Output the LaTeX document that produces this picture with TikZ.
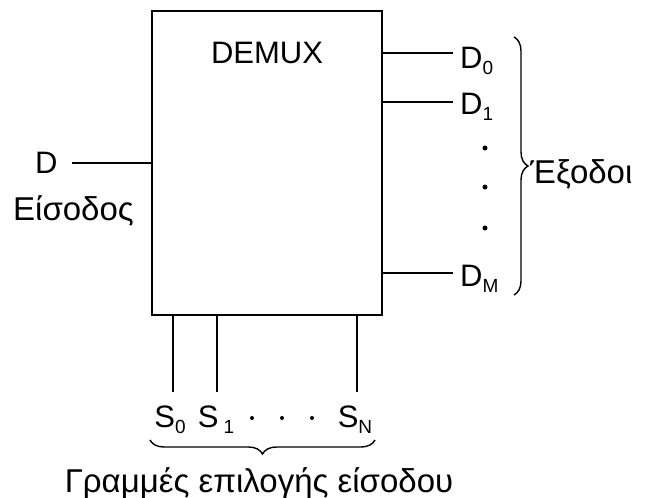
\documentclass[tikz,border=0pt]{standalone}
\usepackage{fontspec}
\setmainfont{Liberation Sans}
\usetikzlibrary{decorations.pathreplacing}
\newcommand{\sbs}[1]{\raisebox{-6pt}{\fontsize{19}{19}\selectfont #1}}
\begin{document}
\begin{tikzpicture}[x=1pt,y=-1pt,
  lbl/.style={inner sep=0pt, font=\fontsize{31}{36}\selectfont},
  glbl/.style={inner sep=0pt, font=\fontsize{33}{38}\selectfont},
  wire/.style={line width=2.5pt},
  boxstyle/.style={draw, line width=2.8pt, minimum width=230pt, minimum height=304pt, inner sep=0pt, outer sep=0pt, anchor=north west},
  brc/.style={decorate, line width=1.4pt, decoration={brace, amplitude=14pt}},
  dotmark/.style={circle, fill, inner sep=0pt, minimum size=5pt}]
\useasboundingbox (0,0) rectangle (648,498);
% block
\node[boxstyle] (demux) at (152,11) {};
\node[lbl, anchor=base] (title) at (267,63) {DEMUX};
% input
\coordinate (din) at (72,163);
\node[lbl, anchor=base west] (dlbl) at (35,173) {D};
\node[glbl, anchor=base west] (inlbl) at (13,220) {Είσοδος};
\draw[wire] (din) -- (din -| demux.west);
% outputs
\coordinate (o0) at (453,53);
\coordinate (o1) at (453,102);
\coordinate (om) at (453,273);
\draw[wire] (demux.east |- o0) -- (o0);
\draw[line width=2pt] (demux.east |- o1) -- (o1);
\draw[wire] (demux.east |- om) -- (om);
\node[lbl, anchor=base west] (d0) at (460,68) {D\sbs{0}};
\node[lbl, anchor=base west] (d1) at (460,114) {D\sbs{1}};
\node[lbl, anchor=base west] (dm) at (460,286) {D\sbs{M}};
\node[dotmark] (v1) at (485,148) {};
\node[dotmark] (v2) at (485,187) {};
\node[dotmark] (v3) at (485,228) {};
\coordinate (rb1) at (514,37);
\coordinate (rb2) at (514,295);
\draw[brc] (rb1) -- (rb2);
\node[glbl, anchor=base west] (outlbl) at (530,183) {Έξοδοι};
% select lines
\coordinate (s0e) at (173,392);
\coordinate (s1e) at (217,392);
\coordinate (sne) at (357,392);
\draw[wire] (demux.south -| s0e) -- (s0e);
\draw[wire] (demux.south -| s1e) -- (s1e);
\draw[wire] (demux.south -| sne) -- (sne);
\node[lbl, anchor=base] (s0) at (170,427) {S\sbs{0}};
\node[lbl, anchor=base] (s1) at (216,427) {S\,\sbs{1}};
\node[lbl, anchor=base] (sn) at (355,427) {S\sbs{N}};
\node[dotmark, minimum size=4pt] (h1) at (252,418) {};
\node[dotmark, minimum size=4pt] (h2) at (282,418) {};
\node[dotmark, minimum size=4pt] (h3) at (312,418) {};
\coordinate (bb1) at (375,440);
\coordinate (bb2) at (150,440);
\draw[brc] (bb1) -- (bb2);
\node[glbl, anchor=base] (sellbl) at (259,492) {Γραμμές επιλογής είσοδου};
\end{tikzpicture}
\end{document}
